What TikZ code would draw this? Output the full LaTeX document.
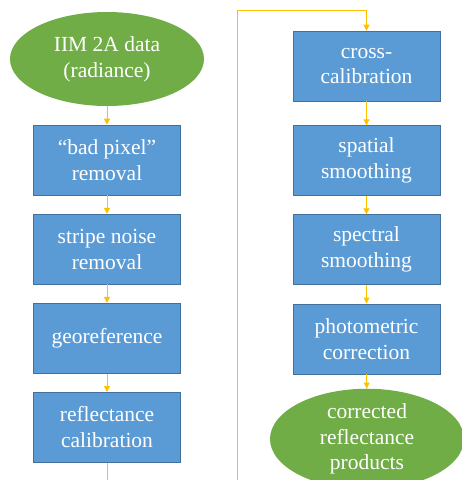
\documentclass[tikz,border=0pt]{standalone}
\usepackage{fontspec}
\setmainfont{Liberation Serif}
\usepackage{xcolor}
\usetikzlibrary{positioning,%
  shapes.geometric,%
  arrows.meta
}
\definecolor{boxblue}{HTML}{5B9BD5}
\definecolor{boxedge}{HTML}{41719C}
\definecolor{datagreen}{HTML}{70AD47}
\definecolor{flowgold}{HTML}{FFC000}

\begin{document}
\begin{tikzpicture}
                    [x=1pt, y=-1pt,
                    dat/.style={ellipse,
                        minimum width=194pt, minimum height=94pt,
                        inner sep=0pt, align=center,
                        fill=datagreen, text=white},
                    proc/.style={rectangle,
                        minimum width=147pt, minimum height=70pt,
                        inner sep=0pt, align=center,
                        fill=boxblue, draw=boxedge, line width=0.6pt,
                        text=white},
                    flow/.style={draw=flowgold, line width=1pt,
                        -{Triangle[width=6pt,length=6pt]}},
                    font=\rmfamily\fontsize{21.5}{25.8}\selectfont,
                    node distance=18.5pt]

                    \useasboundingbox (0,0) rectangle (462,480);
                    \clip (0,0) rectangle (462,480);

                    % left column
                    \node[dat] (raw) at (107,59)
                        {IIM 2A data\\(radiance)};
                    \node[proc, below=of raw]
                        (badpix) {``bad pixel''\\removal};
                    \node[proc, below=of badpix]
                        (stripe) {stripe noise\\removal};
                    \node[proc, below=of stripe]
                        (georef) {georeference};
                    \node[proc, below=of georef]
                        (refcal) {reflectance\\calibration};

                    % right column
                    \node[proc] (xcal) at (366.5,66)
                        {cross-\\calibration};
                    \node[proc, below=24pt of xcal]
                        (spatial) {spatial\\smoothing};
                    \node[proc, below=of spatial]
                        (spectral) {spectral\\smoothing};
                    \node[proc, below=of spectral]
                        (photo) {photometric\\correction};
                    \node[dat] (product) at (367,439)
                        {corrected\\reflectance\\products};

                    % turn from the left column to the right one
                    \coordinate (lowturn) at (107,500);
                    \coordinate (lowmid) at (237,500);
                    \coordinate (topmid) at (237,10);
                    \coordinate (topturn) at (366.5,10);

                    \draw[flow] (raw) -- (badpix);
                    \draw[flow] (badpix) -- (stripe);
                    \draw[flow] (stripe) -- (georef);
                    \draw[flow] (georef) -- (refcal);
                    \draw[flow] (refcal) -- (lowturn) -- (lowmid)
                        -- (topmid) -- (topturn) -- (xcal);
                    \draw[flow] (xcal) -- (spatial);
                    \draw[flow] (spatial) -- (spectral);
                    \draw[flow] (spectral) -- (photo);
                    \draw[flow] (photo) -- (product);
                \end{tikzpicture}
\end{document}
